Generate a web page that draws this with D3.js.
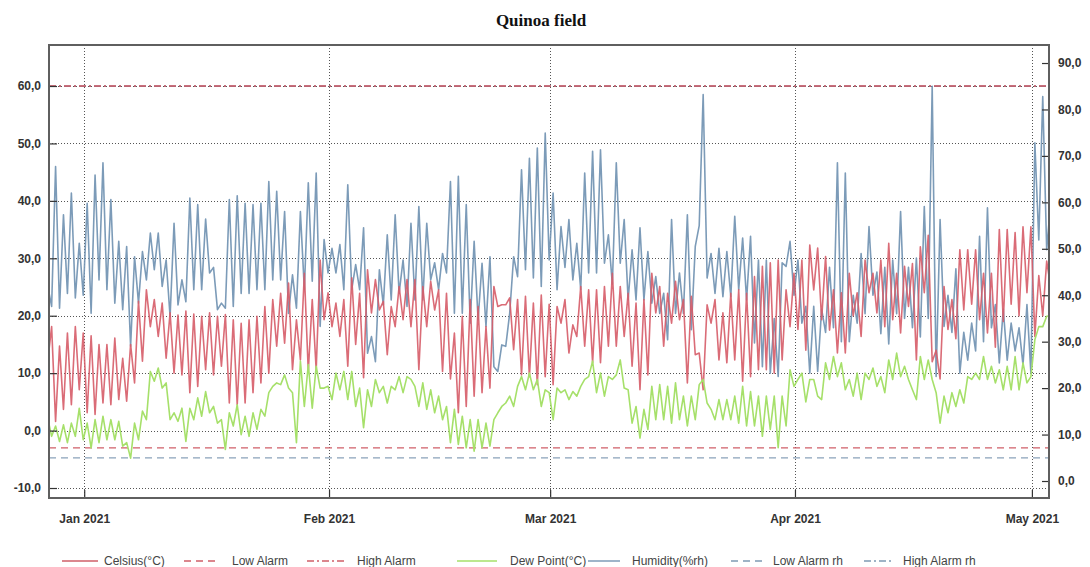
<!DOCTYPE html>
<html>
<head>
<meta charset="utf-8">
<script src="https://cdn.jsdelivr.net/npm/d3@7"></script>
<style>
  html, body { margin: 0; padding: 0; background: #fff; }
  svg { display: block; }
</style>
</head>
<body>
<svg id="chart" width="1090" height="567"></svg>
<script>
// Readings every 12 hours, starting 27 Dec 2020 09:00 UTC
const readingStart = Date.UTC(2020, 11, 27, 9);
const readingStepHours = 12;

// Air temperature (°C)
const celsius = [
  12, 18.1, 1.6, 14.7, 3.7, 17.0, 4.5, 18.1, 7.1, 17.0,
  3.1, 16.5, 2.8, 15.0, 4.8, 15.0, 4.5, 16.1, 5.4, 12.6,
  5.1, 15.0, 8.3, 22.5, 12.1, 24.5, 18.1, 22.8, 16.4, 22.2,
  12.6, 20.5, 10.0, 20.1, 9.7, 20.8, 6.6, 20.3, 7.7, 19.9,
  10.6, 20.5, 9.7, 19.9, 11.2, 20.2, 4.8, 19.3, 4.5, 18.7,
  4.8, 19.3, 6.6, 19.9, 8.3, 21.6, 10.0, 22.8, 14.7, 23.9,
  15.2, 25.7, 10.6, 19.3,
  12.3, 27.4, 10.3, 22.8, 10.6, 29.7, 19.3, 24.0, 18.1, 22.2,
  16.4, 22.8, 11.2, 26.6, 15.0, 23.9, 9.2, 28.0, 20.5, 26.3,
  21.0, 22.5, 13.2, 21.6, 18.1, 25.1, 19.3, 26.3, 18.1, 26.3,
  10.6, 25.1, 18.1, 26.0, 21.0, 24.5, 10.3, 23.9, 9.0, 17.0,
  3.1, 19.9, 4.2, 22.8, 6.0, 21.6, 6.6, 18.1, 7.4, 25.1,
  21.6, 21.9, 21.9, 23.1, 14.1, 22.8, 9.7, 23.4, 9.4, 22.2,
  8.0, 23.6, 9.4, 22.0,
  8.0, 21.6, 18.7, 22.8, 13.5, 18.4, 16.4, 25.1, 14.7, 24.5,
  11.8, 24.5, 11.8, 25.1, 14.7, 27.4, 14.7, 25.1, 16.4, 23.9,
  11.2, 22.2, 7.1, 22.8, 9.7, 27.4, 20.5, 25.1, 14.7, 23.9,
  18.7, 26.0, 19.3, 22.8, 8.3, 23.4, 13.2, 13.5, 7.1, 21.9,
  18.7, 22.8, 12.3, 20.5, 11.8, 23.9, 12.3, 24.5, 8.6, 23.9,
  9.4, 26.8, 10.6, 28.6, 10.6, 29.2, 10.0, 29.7, 12.3, 24.5,
  18.1, 27.4, 17.6,
  29.7, 14.0, 32.3, 24.5, 31.8, 19.3, 30.3, 17.5, 24.5, 13.5,
  24.0, 13.5, 27.4, 20.0, 24.0, 16.4, 29.7, 24.0, 27.4, 20.5,
  29.7, 18.1, 32.6, 19.3, 27.4, 17.0, 28.6, 21.6, 29.1, 12.3,
  32.0, 24.0, 34.0, 12.0, 14.0, 9.0, 25.1, 17.6, 22.8, 16.0,
  31.5, 21.0, 31.5, 22.0, 31.5, 19.3, 27.4, 17.0, 27.4, 14.5,
  35.0, 19.0, 35.0, 22.0, 34.5, 20.0, 35.5, 24.0, 35.5, 16.4,
  27.0, 20.0, 29.5, 25.0
];

// Relative humidity (%rh)
const humidity = [
  42, 37.6, 67.7, 37.2, 57.3, 40.4, 62.0, 39.4, 51.2, 40.0,
  59.8, 36.1, 65.9, 43.3, 68.5, 41.2, 60.6, 38.3, 51.6, 36.9,
  50.5, 29.0, 48.3, 38.3, 49.4, 43.3, 53.4, 45.5, 53.4, 41.9,
  47.6, 35.4, 55.5, 37.9, 43.3, 38.6, 60.9, 41.2, 59.5, 41.2,
  56.4, 44.8, 46.0, 36.9, 38.3, 37.2, 60.6, 37.6, 61.4, 40.4,
  59.8, 40.4, 59.5, 41.2, 59.8, 41.2, 64.5, 43.3, 62.4, 43.3,
  58.0, 36.1, 44.4, 37.2,
  58.0, 41.2, 64.2, 43.0, 66.3, 33.3, 52.0, 44.8, 50.1, 44.8,
  50.9, 41.2, 63.8, 41.2, 46.6, 41.2, 54.5, 27.5, 31.1, 25.7,
  45.5, 37.9, 53.0, 39.0, 57.3, 40.4, 47.6, 37.6, 55.5, 39.0,
  59.1, 39.0, 55.5, 43.3, 47.0, 41.2, 49.0, 44.8, 64.5, 36.1,
  65.6, 36.1, 59.5, 34.0, 51.6, 34.7, 46.9, 33.3, 48.3, 24.6,
  23.6, 29.3, 29.0, 36.1, 48.3, 44.0, 67.0, 45.5, 69.5, 43.7,
  71.7, 41.9, 74.9, 47.6,
  62.0, 41.2, 54.8, 46.0, 56.3, 43.3, 51.2, 41.2, 66.3, 44.8,
  71.0, 44.8, 71.3, 46.9, 53.0, 42.4, 68.5, 46.9, 56.3, 39.0,
  49.8, 39.0, 54.5, 39.0, 49.4, 38.3, 44.0, 36.1, 40.4, 30.4,
  56.3, 36.1, 44.8, 36.1, 57.3, 32.6, 50.5, 55.0, 83.2, 43.7,
  49.0, 40.4, 50.1, 39.7, 49.4, 39.7, 57.0, 41.2, 52.3, 39.0,
  52.7, 29.7, 47.6, 24.6, 47.6, 23.2, 35.0, 22.5, 47.0, 46.2,
  51.6, 40.0, 47.6,
  34.0, 37.6, 23.2, 37.6, 23.6, 37.0, 32.0, 46.0, 33.0, 68.5,
  30.0, 66.3, 30.0, 40.0, 34.0, 49.0, 36.0, 54.8, 40.0, 45.0,
  31.7, 46.0, 29.5, 47.6, 36.0, 58.0, 35.0, 46.0, 33.0, 48.0,
  31.0, 59.1, 35.0, 85.0, 22.5, 56.3, 33.3, 40.0, 32.0, 45.7,
  23.2, 32.0, 26.0, 34.0, 28.0, 52.7, 30.0, 58.8, 33.0, 38.0,
  25.4, 37.0, 26.0, 34.0, 28.0, 33.0, 25.0, 38.0, 23.2, 72.8,
  51.9, 82.8, 49.8, 60.0
];

// Dew point (°C)
const dewPoint = [
  2.2, -1.0, 0.8, -1.9, 1.0, -2.1, 1.3, -1.0, 3.9, -1.6,
  1.3, -3.0, 1.9, -2.1, 2.5, -1.6, 1.9, -1.6, 1.6, -2.7,
  -2.1, -4.8, 1.3, -1.6, 3.4, 1.9, 10.3, 8.6, 10.9, 7.4,
  8.3, 1.9, 3.1, 1.6, 3.9, -1.9, 3.9, 1.9, 5.7, 2.5,
  6.8, 3.1, 4.2, 1.3, 1.9, -3.3, 3.1, 0.8, 4.5, -0.7,
  2.5, -1.0, 3.1, 0.2, 3.7, 2.5, 6.6, 7.7, 8.3, 8.0,
  9.7, 7.4, 6.6, -2.1,
  12.1, 4.2, 11.5, 3.9, 11.2, 7.4, 7.4, 7.7, 5.4, 10.0,
  7.1, 10.3, 5.4, 10.3, 4.2, 7.4, 0.5, 7.1, 4.2, 8.9,
  6.6, 7.7, 4.8, 7.7, 7.1, 9.4, 6.6, 9.4, 8.9, 7.7,
  4.2, 8.3, 3.7, 7.1, 3.1, 6.0, 1.9, 4.2, -2.1, 3.7,
  -2.4, 2.5, -3.0, 1.9, -3.6, 1.9, -3.0, 1.3, -2.7, 1.9,
  3.1, 4.2, 4.8, 6.0, 4.2, 7.7, 9.4, 7.1, 10.0, 7.1,
  8.9, 4.2, 7.1, 6.6,
  1.9, 7.4, 6.6, 7.1, 5.4, 6.8, 6.0, 7.7, 8.9, 9.4,
  12.1, 6.6, 10.0, 6.0, 9.4, 8.9, 9.7, 12.3, 7.4, 7.1,
  1.3, 4.2, -1.3, 3.7, 0.2, 7.7, 1.9, 8.0, 1.9, 7.7,
  1.3, 8.3, 1.9, 6.0, 0.8, 6.0, 1.9, 8.0, 8.9, 4.8,
  3.7, 1.9, 5.4, 1.9, 5.4, 1.9, 6.0, 1.3, 7.7, 0.8,
  6.8, 0.8, 6.0, -1.0, 6.0, 0.2, 6.0, -3.0, 6.0, 0.8,
  10.6, 7.7, 8.9,
  10.0, 5.0, 8.9, 8.9, 6.0, 5.4, 11.8, 8.9, 12.9, 9.4,
  11.8, 7.1, 8.9, 6.0, 10.0, 5.4, 10.0, 8.9, 10.9, 7.7,
  9.4, 6.6, 12.3, 8.9, 13.5, 9.4, 11.2, 8.9, 7.1, 5.4,
  12.9, 8.9, 12.3, 8.9, 6.6, 1.3, 6.0, 3.1, 6.6, 4.2,
  7.1, 4.8, 9.4, 8.9, 10.0, 8.9, 12.9, 8.9, 11.2, 8.3,
  10.6, 7.1, 11.2, 7.1, 12.9, 7.1, 11.8, 8.3, 9.4, 15.8,
  18.1, 18.1, 19.9, 20.0
];

// Alarm thresholds
const lowAlarmC = -3;
const highAlarmC = 60;
const lowAlarmRh = 5;
const highAlarmRh = 85;

// Axis ticks
const celsiusTicks = [-10, 0, 10, 20, 30, 40, 50, 60];
const humidityTicks = [0, 10, 20, 30, 40, 50, 60, 70, 80, 90];
const monthTicks = [Date.UTC(2021, 0, 1), Date.UTC(2021, 1, 1), Date.UTC(2021, 2, 1), Date.UTC(2021, 3, 1), Date.UTC(2021, 4, 1)];
const monthLabels = ["Jan 2021", "Feb 2021", "Mar 2021", "Apr 2021", "May 2021"];

const legendItems = [
  { label: "Celsius(°C)",   color: "#cf5f68", dash: null },
  { label: "Low Alarm",     color: "#cf5f68", dash: "7,5" },
  { label: "High Alarm",    color: "#cf5f68", dash: "7,3,2,3" },
  { label: "Dew Point(°C)", color: "#a6e06a", dash: null },
  { label: "Humidity(%rh)", color: "#7596b4", dash: null },
  { label: "Low Alarm rh",  color: "#7f9ab4", dash: "7,5" },
  { label: "High Alarm rh", color: "#7f9ab4", dash: "7,3,2,3" }
];

const svg = d3.select("#chart");
const plot = { left: 49, right: 1049, top: 45, bottom: 498 };

const times = celsius.map((_, i) => new Date(readingStart + i * readingStepHours * 3600e3));

const x = d3.scaleUtc()
  .domain([new Date(Date.UTC(2020, 11, 27, 13)), new Date(Date.UTC(2021, 4, 3, 4))])
  .range([plot.left, plot.right]);
const yC = d3.scaleLinear().domain([-11.74, 67.14]).range([plot.bottom, plot.top]);
const yH = d3.scaleLinear().domain([-3.66, 93.88]).range([plot.bottom, plot.top]);

const fmt = d => d.toFixed(1).replace(".", ",");

svg.append("rect").attr("width", 1090).attr("height", 567).attr("fill", "#fff");

svg.append("defs").append("clipPath").attr("id", "plot-clip")
  .append("rect")
  .attr("x", plot.left).attr("y", plot.top)
  .attr("width", plot.right - plot.left).attr("height", plot.bottom - plot.top);

// Title
svg.append("text")
  .attr("x", 541).attr("y", 26)
  .attr("text-anchor", "middle")
  .attr("font-family", "'Liberation Serif', 'DejaVu Serif', serif")
  .attr("font-weight", "bold")
  .attr("font-size", 17)
  .attr("fill", "#111")
  .text("Quinoa field");

// Grid lines
const grid = svg.append("g").attr("stroke", "#555").attr("stroke-width", 1).attr("stroke-dasharray", "1,2");
grid.selectAll("line.h").data(celsiusTicks).join("line")
  .attr("x1", plot.left).attr("x2", plot.right)
  .attr("y1", d => Math.round(yC(d)) + 0.5).attr("y2", d => Math.round(yC(d)) + 0.5);
grid.selectAll("line.v").data(monthTicks).join("line")
  .attr("y1", plot.top).attr("y2", plot.bottom)
  .attr("x1", d => Math.round(x(new Date(d))) + 0.5).attr("x2", d => Math.round(x(new Date(d))) + 0.5);

// Alarm levels
const alarms = svg.append("g").attr("clip-path", "url(#plot-clip)").attr("fill", "none").attr("stroke-width", 1.3);
[
  { y: yC(lowAlarmC),   color: "#cf5f68", dash: "7,5" },
  { y: yH(lowAlarmRh),  color: "#8aa2ba", dash: "7,5" },
  { y: yH(highAlarmRh), color: "#8aa2ba", dash: "7,3,2,3" },
  { y: yC(highAlarmC),  color: "#c9505c", dash: "7,3,2,3" }
].forEach(a => {
  alarms.append("line")
    .attr("x1", plot.left).attr("x2", plot.right)
    .attr("y1", a.y).attr("y2", a.y)
    .attr("stroke", a.color).attr("stroke-dasharray", a.dash);
});

// Series
const series = svg.append("g").attr("clip-path", "url(#plot-clip)").attr("fill", "none")
  .attr("stroke-width", 1.6).attr("stroke-linejoin", "round");

const lineH = d3.line().x((d, i) => x(times[i])).y(d => yH(d));
const lineC = d3.line().x((d, i) => x(times[i])).y(d => yC(d));

series.append("path").datum(humidity).attr("d", lineH).attr("stroke", "#7596b4").attr("stroke-opacity", 0.95);
series.append("path").datum(celsius).attr("d", lineC).attr("stroke", "#d65c68").attr("stroke-opacity", 0.9);
series.append("path").datum(dewPoint).attr("d", lineC).attr("stroke", "#a6e06a");

// Axes
const axisFont = g => g.selectAll("text")
  .attr("font-family", "'Liberation Sans', Arial, sans-serif")
  .attr("font-weight", "bold")
  .attr("font-size", 12)
  .attr("fill", "#333");

const leftAxis = svg.append("g").attr("transform", `translate(${plot.left},0)`)
  .call(d3.axisLeft(yC).tickValues(celsiusTicks).tickFormat(fmt).tickSize(-8).tickPadding(8));
leftAxis.call(axisFont);

const rightAxis = svg.append("g").attr("transform", `translate(${plot.right},0)`)
  .call(d3.axisRight(yH).tickValues(humidityTicks).tickFormat(fmt).tickSize(-7).tickPadding(9));
rightAxis.call(axisFont);

const bottomAxis = svg.append("g").attr("transform", `translate(0,${plot.bottom})`)
  .call(d3.axisBottom(x).tickValues(monthTicks.map(d => new Date(d)))
    .tickFormat((d, i) => monthLabels[i]).tickSize(-8).tickPadding(16));
bottomAxis.call(axisFont);

[leftAxis, rightAxis, bottomAxis].forEach(g => {
  g.select(".domain").remove();
  g.selectAll(".tick line").attr("stroke", "#333").attr("stroke-width", 1.2);
});

// Plot frame
svg.append("rect")
  .attr("x", plot.left).attr("y", plot.top)
  .attr("width", plot.right - plot.left).attr("height", plot.bottom - plot.top)
  .attr("fill", "none").attr("stroke", "#5f5f5f").attr("stroke-width", 2);

// Legend
const legendX = [62, 184, 307, 457, 588, 731, 864];
const legendLen = [36, 36, 38, 40, 32, 33, 30];
const legendTextX = [104, 232, 357, 510, 632, 773, 903];
const legend = svg.append("g").attr("transform", "translate(0,561)");
legendItems.forEach((item, i) => {
  legend.append("line").attr("x1", legendX[i]).attr("x2", legendX[i] + legendLen[i]).attr("y1", 0).attr("y2", 0)
    .attr("stroke", item.color).attr("stroke-width", 1.4)
    .attr("stroke-dasharray", item.dash);
  legend.append("text").attr("x", legendTextX[i]).attr("y", 4)
    .attr("font-family", "'Liberation Sans', Arial, sans-serif")
    .attr("font-size", 12).attr("fill", "#444")
    .text(item.label);
});
</script>
</body>
</html>
